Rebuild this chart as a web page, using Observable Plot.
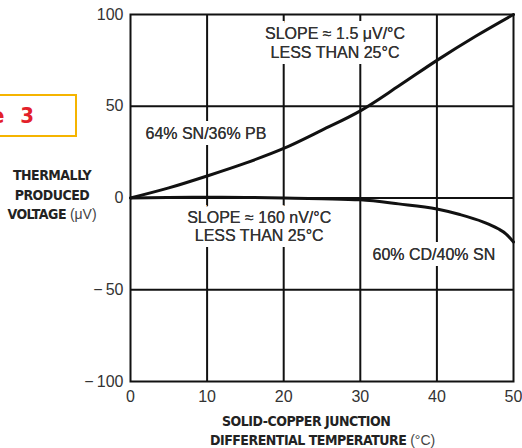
<!DOCTYPE html>
<html><head><meta charset="utf-8">
<script src="https://cdn.jsdelivr.net/npm/d3@7"></script>
<script src="https://cdn.jsdelivr.net/npm/@observablehq/plot@0.6"></script>
<style>
body{margin:0;background:#fff;}
#wrap{position:relative;width:522px;height:448px;overflow:hidden;font-family:"Liberation Sans",Roboto,sans-serif;}
#chart{position:absolute;left:0;top:0;}
.ttl{position:absolute;font-family:"Liberation Sans Narrow","DejaVu Sans Condensed",sans-serif;font-weight:bold;font-size:14px;color:#222;white-space:nowrap;line-height:19.5px;letter-spacing:-0.5px;}
.ttl span{font-family:"Liberation Sans",Roboto,sans-serif;font-weight:normal;font-size:14px;color:#444;letter-spacing:0;}
#fig{position:absolute;left:-100px;top:94px;width:177px;height:43px;border:2px solid #f5b400;box-sizing:border-box;text-align:right;padding-right:41px;font-family:"Liberation Sans Narrow","DejaVu Sans Condensed",sans-serif;font-weight:bold;font-size:22px;color:#e3202a;line-height:39px;word-spacing:9px;}
</style></head>
<body>
<div id="wrap">
  <div id="chart"></div>
  <div id="fig">Figure 3</div>
  <div class="ttl" id="yt" style="left:0;width:104px;top:166px;text-align:center;">THERMALLY<br>PRODUCED<br>VOLTAGE <span>(μV)</span></div>
  <div class="ttl" style="left:222px;top:412px;">SOLID-COPPER JUNCTION</div>
  <div class="ttl" style="left:210px;top:431px;">DIFFERENTIAL TEMPERATURE <span>(°C)</span></div>
</div>
<script>
// Data
const snPbTemps = [0, 5, 10, 15, 20, 25, 30, 35, 40, 45, 50];
const snPbVolts = [0, 5.5, 12, 19, 27, 37, 47.5, 61, 75, 88, 100];
const cdSnTemps = [0, 5, 10, 15, 20, 25, 30, 35, 40, 43, 46, 48, 49, 50];
const cdSnVolts = [0, 0.3, 0.4, 0.3, 0, -0.4, -1, -3.2, -6, -9, -13, -16.8, -19.5, -24];
const xTicks = [0, 10, 20, 30, 40, 50];
const yTicks = [-100, -50, 0, 50, 100];
const yTickLabels = ["\u2212\u2009100", "\u2212\u200950", "0", "50", "100"];
const xGrid = [10, 20, 30, 40];
const yGrid = [-50, 0, 50];
const noteTexts = ["SLOPE \u2248 1.5 \u03bcV/\u00b0C\nLESS THAN 25\u00b0C", "64% SN/36% PB", "SLOPE \u2248 160 nV/\u00b0C\nLESS THAN 25\u00b0C", "60% CD/40% SN"];
const noteX = [26.7, 9.85, 16.8, 39.6];
const noteY = [84.7, 35.3, -15.3, -30.8];

const snPb = snPbTemps.map((t, i) => ({t, v: snPbVolts[i]}));
const cdSn = cdSnTemps.map((t, i) => ({t, v: cdSnVolts[i]}));
const notes = noteTexts.map((text, i) => ({text, x: noteX[i], y: noteY[i]}));

const chart = Plot.plot({
  width: 522, height: 448,
  marginLeft: 130, marginRight: 9, marginTop: 14, marginBottom: 67,
  style: {fontFamily: "'Liberation Sans', Roboto, sans-serif", fontSize: "16px", color: "#222", background: "#fff"},
  x: {domain: [0, 50]},
  y: {domain: [-100, 100]},
  marks: [
    Plot.ruleX(xGrid, {stroke: "#111", strokeWidth: 2}),
    Plot.ruleY(yGrid, {stroke: "#111", strokeWidth: 2}),
    Plot.text(notes, {x: "x", y: "y", text: "text", fontSize: 16, lineHeight: 1.15, fill: "#333", stroke: "white", strokeWidth: 12, strokeLinejoin: "miter"}),
    Plot.text(notes, {x: "x", y: "y", text: "text", fontSize: 16, lineHeight: 1.15, fill: "#333"}),
    Plot.line(snPb, {x: "t", y: "v", stroke: "#111", strokeWidth: 3, curve: "monotone-x"}),
    Plot.line(cdSn, {x: "t", y: "v", stroke: "#111", strokeWidth: 3, curve: "monotone-x"}),
    Plot.frame({stroke: "#111", strokeWidth: 2}),
    Plot.axisX(xTicks, {tickSize: 0, tickPadding: 9, fontSize: 16, fill: "#333", label: null}),
    Plot.axisY(yTicks, {tickSize: 0, tickPadding: 7, fontSize: 16, fill: "#333", label: null, tickFormat: (d) => yTickLabels[yTicks.indexOf(d)]})
  ]
});
document.getElementById("chart").appendChild(chart);
</script>
</body></html>
